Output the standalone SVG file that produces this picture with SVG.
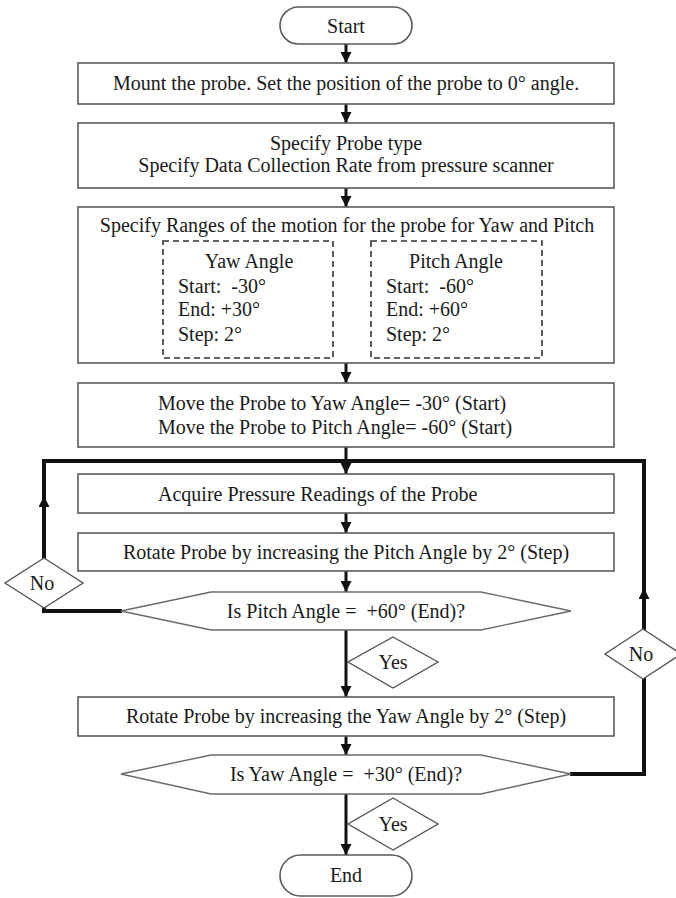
<svg xmlns="http://www.w3.org/2000/svg" width="676" height="898" viewBox="0 0 676 898">
  <style>
    .box { fill: #fff; stroke: #5a5a5a; stroke-width: 1.6; }
    .hex { fill: #fff; stroke: #6a6a6a; stroke-width: 1.4; }
    .dash { fill: none; stroke: #333; stroke-width: 1.6; stroke-dasharray: 6 4; }
    .dia { fill: #fff; stroke: #555; stroke-width: 1.4; }
    .t { font-family: "Liberation Serif", "Times New Roman", serif; font-size: 20px; fill: #1a1a1a; white-space: pre; }
    .c { text-anchor: middle; }
    .flow { fill: none; stroke: #111; stroke-width: 3; }
    .loop { fill: none; stroke: #111; stroke-width: 4; }
  </style>
  <defs>
    <marker id="arrow" viewBox="0 0 10 10" refX="10" refY="5" markerWidth="11" markerHeight="11" markerUnits="userSpaceOnUse" orient="auto">
      <path d="M0,0 L10,5 L0,10 Z" fill="#111"/>
    </marker>
  </defs>
  <rect width="676" height="898" fill="#fff"/>

  <!-- connectors -->
  <g id="connectors">
    <path class="flow" d="M346,44 V63" marker-end="url(#arrow)"/>
    <path class="flow" d="M346,104 V123" marker-end="url(#arrow)"/>
    <path class="flow" d="M346,188 V207" marker-end="url(#arrow)"/>
    <path class="flow" d="M346,363 V383" marker-end="url(#arrow)"/>
    <path class="flow" d="M346,447 V474" marker-end="url(#arrow)"/>
    <path class="flow" d="M346,513 V533" marker-end="url(#arrow)"/>
    <path class="flow" d="M346,571 V592" marker-end="url(#arrow)"/>
    <path class="flow" d="M346,630 V697" marker-end="url(#arrow)"/>
    <path class="flow" d="M346,736 V755" marker-end="url(#arrow)"/>
    <path class="flow" d="M346,794 V855" marker-end="url(#arrow)"/>
    <!-- pitch loop (No) -->
    <path class="loop" d="M122,611 H44 V496" marker-end="url(#arrow)"/>
    <path class="loop" d="M44,500 V461 H348"/>
    <!-- yaw loop (No) -->
    <path class="loop" d="M570,774 H644 V588" marker-end="url(#arrow)"/>
    <path class="loop" d="M644,592 V461 H344"/>
  </g>

  <g id="start">
    <rect class="box" x="280" y="7" width="132" height="37" rx="18.5"/>
    <text class="t c" x="346" y="33">Start</text>
  </g>

  <g id="mount">
    <rect class="box" x="78" y="63" width="536" height="41"/>
    <text class="t c" x="346" y="90">Mount the probe. Set the position of the probe to 0° angle.</text>
  </g>

  <g id="specify-probe">
    <rect class="box" x="78" y="123" width="536" height="65"/>
    <text class="t c" x="346" y="150">Specify Probe type</text>
    <text class="t c" x="346" y="172">Specify Data Collection Rate from pressure scanner</text>
  </g>

  <g id="ranges">
    <rect class="box" x="78" y="207" width="536" height="156"/>
    <text class="t c" x="347" y="232">Specify Ranges of the motion for the probe for Yaw and Pitch</text>
    <rect class="dash" x="163" y="241" width="170" height="117"/>
    <text class="t c" x="249" y="268">Yaw Angle</text>
    <text class="t" x="178" y="293">Start:  -30°</text>
    <text class="t" x="178" y="316">End: +30°</text>
    <text class="t" x="178" y="341">Step: 2°</text>
    <rect class="dash" x="371" y="241" width="171" height="117"/>
    <text class="t c" x="456" y="268">Pitch Angle</text>
    <text class="t" x="386" y="293">Start:  -60°</text>
    <text class="t" x="386" y="316">End: +60°</text>
    <text class="t" x="386" y="341">Step: 2°</text>
  </g>

  <g id="move-start">
    <rect class="box" x="78" y="383" width="536" height="64"/>
    <text class="t" x="158" y="410">Move the Probe to Yaw Angle= -30° (Start)</text>
    <text class="t" x="158" y="434">Move the Probe to Pitch Angle= -60° (Start)</text>
  </g>

  <g id="acquire">
    <rect class="box" x="78" y="474" width="536" height="39"/>
    <text class="t" x="158" y="501">Acquire Pressure Readings of the Probe</text>
  </g>

  <g id="rotate-pitch">
    <rect class="box" x="78" y="533" width="536" height="38"/>
    <text class="t c" x="346" y="559">Rotate Probe by increasing the Pitch Angle by 2° (Step)</text>
  </g>

  <g id="pitch-check">
    <polygon class="hex" points="121,611 211,592 481,592 571,611 481,630 211,630"/>
    <text class="t c" x="346" y="618">Is Pitch Angle =  +60° (End)?</text>
  </g>

  <g id="rotate-yaw">
    <rect class="box" x="78" y="697" width="536" height="39"/>
    <text class="t c" x="346" y="723">Rotate Probe by increasing the Yaw Angle by 2° (Step)</text>
  </g>

  <g id="yaw-check">
    <polygon class="hex" points="121,774 211,755 481,755 571,774 481,794 211,794"/>
    <text class="t c" x="346" y="781">Is Yaw Angle =  +30° (End)?</text>
  </g>

  <g id="end">
    <rect class="box" x="280" y="855" width="132" height="41" rx="20.5"/>
    <text class="t c" x="346" y="882">End</text>
  </g>

  <!-- branch labels -->
  <g id="no-pitch">
    <polygon class="dia" points="44,558 83,583 44,608 5,583"/>
    <text class="t c" x="42" y="590">No</text>
  </g>
  <g id="no-yaw">
    <polygon class="dia" points="643,629 681,654 643,679 605,654"/>
    <text class="t c" x="641" y="661">No</text>
  </g>
  <g id="yes-pitch">
    <polygon class="dia" points="393,637 438,662 393,688 348,662"/>
    <text class="t c" x="393" y="669">Yes</text>
  </g>
  <g id="yes-yaw">
    <polygon class="dia" points="393,798 438,824 393,850 348,824"/>
    <text class="t c" x="393" y="831">Yes</text>
  </g>
</svg>
